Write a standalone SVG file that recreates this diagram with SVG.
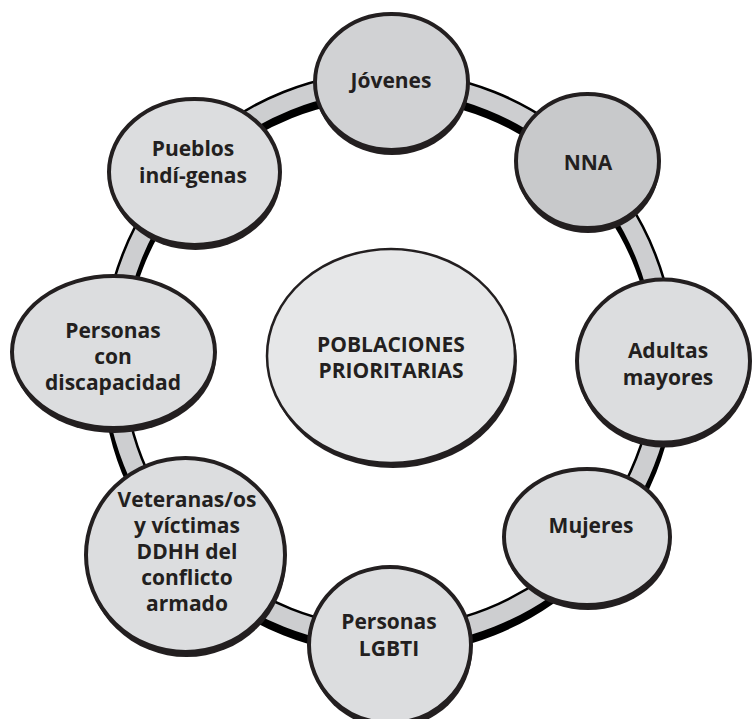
<svg xmlns="http://www.w3.org/2000/svg" width="753" height="719" viewBox="0 0 753 719">
<style>
.sh{fill:#231f20}
.nd{stroke:#231f20;stroke-width:4}
.lt{fill:#dcdddf}
.t{font-family:"Open Sans","Noto Sans","Liberation Sans",sans-serif;font-weight:700;font-size:21px;fill:#231f20;text-anchor:middle;dominant-baseline:central}
</style>
<rect width="753" height="719" fill="#ffffff"/>
<g id="connectors">
<ellipse cx="389" cy="366" rx="276" ry="278" fill="none" stroke="#000" stroke-width="23"/>
<ellipse cx="389" cy="360" rx="276" ry="278" fill="none" stroke="#000" stroke-width="23"/>
<ellipse cx="389" cy="360" rx="276" ry="278" fill="none" stroke="#cdced0" stroke-width="18"/>
</g>
<g id="center">
<ellipse class="sh" cx="393" cy="361" rx="124" ry="107"/>
<ellipse cx="391" cy="356" rx="124" ry="107" fill="#e6e7e8" stroke="#231f20" stroke-width="2.5"/>
<text class="t" x="391" y="344">POBLACIONES</text>
<text class="t" x="391" y="370">PRIORITARIAS</text>
</g>
<g id="jovenes">
<ellipse class="sh" cx="392" cy="87" rx="76.5" ry="68"/>
<ellipse class="nd" cx="391.5" cy="82" rx="76.5" ry="68" fill="#d1d2d4"/>
<text class="t" x="391" y="80">Jóvenes</text>
</g>
<g id="nna">
<ellipse class="sh" cx="588" cy="166" rx="71.5" ry="67"/>
<ellipse class="nd" cx="587.5" cy="161" rx="71.5" ry="67" fill="#c8c9cb"/>
<text class="t" x="588" y="162">NNA</text>
</g>
<g id="adultas">
<ellipse class="sh" cx="664" cy="366" rx="86.5" ry="81.5"/>
<ellipse class="nd lt" cx="663.5" cy="361" rx="86.5" ry="81.5"/>
<text class="t" x="668" y="350">Adultas</text>
<text class="t" x="668" y="377">mayores</text>
</g>
<g id="mujeres">
<ellipse class="sh" cx="588" cy="542" rx="83" ry="68"/>
<ellipse class="nd lt" cx="587" cy="537" rx="83" ry="68"/>
<text class="t" x="591" y="525">Mujeres</text>
</g>
<g id="lgbti">
<ellipse class="sh" cx="391" cy="650" rx="81" ry="78"/>
<ellipse class="nd lt" cx="390" cy="645" rx="81" ry="78"/>
<text class="t" x="389" y="621">Personas</text>
<text class="t" x="389" y="648">LGBTI</text>
</g>
<g id="veteranas">
<ellipse class="sh" cx="186.5" cy="560" rx="99.5" ry="97"/>
<ellipse class="nd lt" cx="185.5" cy="555" rx="99.5" ry="97"/>
<text class="t" x="187" y="499">Veteranas/os</text>
<text class="t" x="187" y="525">y víctimas</text>
<text class="t" x="187" y="551">DDHH del</text>
<text class="t" x="187" y="577">conflicto</text>
<text class="t" x="187" y="603">armado</text>
</g>
<g id="discapacidad">
<ellipse class="sh" cx="114.5" cy="357" rx="101.5" ry="76"/>
<ellipse class="nd lt" cx="113.5" cy="352" rx="101.5" ry="76"/>
<text class="t" x="113" y="330">Personas</text>
<text class="t" x="113" y="356">con</text>
<text class="t" x="113" y="382">discapacidad</text>
</g>
<g id="pueblos">
<ellipse class="sh" cx="195.5" cy="177" rx="85.5" ry="73"/>
<ellipse class="nd lt" cx="194.5" cy="172" rx="85.5" ry="73"/>
<text class="t" x="193" y="148">Pueblos</text>
<text class="t" x="193" y="175">indí-genas</text>
</g>
</svg>
